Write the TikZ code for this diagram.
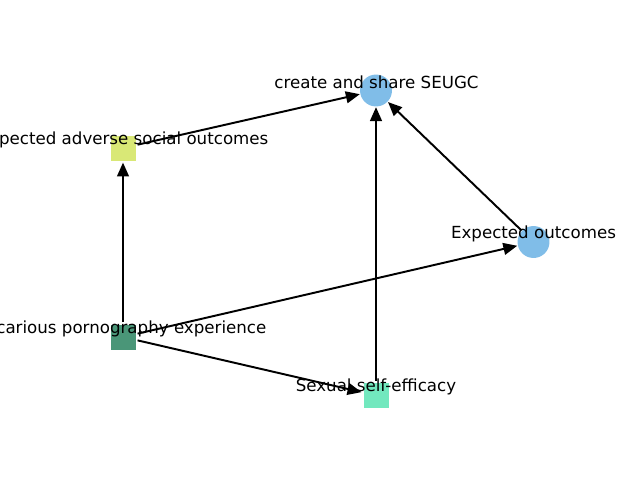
\documentclass[tikz,border=0pt]{standalone}
\usepackage{fontspec}
\setmainfont{DejaVu Sans}
\usetikzlibrary{arrows.meta}
\definecolor{cblue}{RGB}{128,189,232}
\definecolor{cyellow}{RGB}{217,232,118}
\definecolor{cdark}{RGB}{74,150,120}
\definecolor{cmint}{RGB}{114,232,190}
\begin{document}
\begin{tikzpicture}[x=0.72pt,y=-0.72pt,
  sqnode/.style={rectangle,draw=none,minimum size=18pt,inner sep=0pt,outer sep=1.5pt},
  cnode/.style={circle,draw=none,minimum size=23pt,inner sep=0pt,outer sep=0.5pt},
  lbl/.style={font=\fontsize{12pt}{14pt}\selectfont,inner sep=0pt,anchor=center},
  edge/.style={line width=1.4pt,-{Triangle[length=10pt,width=8.5pt]}}]
\useasboundingbox (0,0) rectangle (640,480);
% nodes
\node[cnode,fill=cblue] (seugc) at (376,90.5) {};
\node[sqnode,fill=cyellow] (adverse) at (123,148) {};
\node[cnode,fill=cblue] (outcomes) at (533.5,242) {};
\node[sqnode,fill=cdark] (vicarious) at (123,337) {};
\node[sqnode,fill=cmint] (efficacy) at (376,395.5) {};
% connectors
\draw[edge] (adverse) -- (seugc);
\draw[edge] (vicarious) -- (adverse);
\draw[edge] (vicarious) -- (outcomes);
\draw[edge] (vicarious) -- (efficacy);
\draw[edge] (efficacy) -- (seugc);
\draw[edge] (outcomes) -- (seugc);
% labels
\node[lbl] (lseugc) at (376.5,82) {create and share SEUGC};
\node[lbl] (ladverse) at (123.5,140) {Expected adverse social outcomes};
\node[lbl] (loutcomes) at (533.5,234) {Expected outcomes};
\node[lbl] (lvicarious) at (123.5,329) {Vicarious pornography experience};
\node[lbl] (lefficacy) at (376,387) {Sexual self-efficacy};
\end{tikzpicture}
\end{document}
